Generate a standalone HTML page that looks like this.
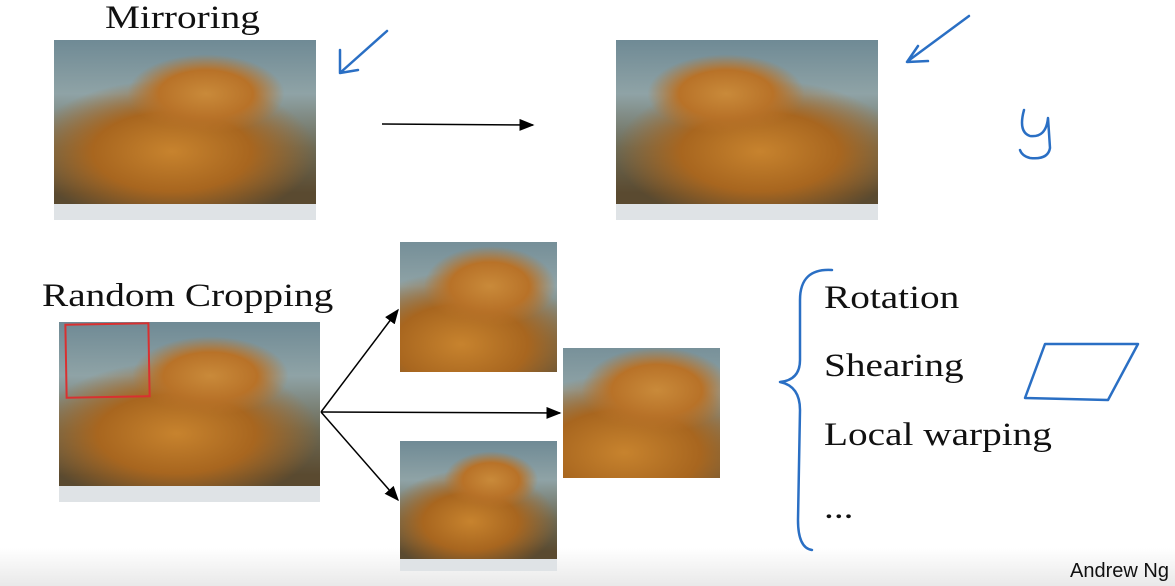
<!DOCTYPE html>
<html><head><meta charset="utf-8"><style>
body{margin:0;width:1175px;height:586px;background:#fff;position:relative;overflow:hidden;font-family:"Liberation Serif",serif;}
.t{position:absolute;font-size:33px;color:#111;white-space:nowrap;line-height:1;transform:scaleX(1.19);transform-origin:0 0}
.cat{position:absolute;overflow:hidden;
background:
radial-gradient(ellipse 30% 22% at 58% 30%, #c98a3a 0%, #b87228 60%, rgba(180,110,40,0) 100%),
radial-gradient(ellipse 55% 40% at 45% 62%, #c7832e 0%, #a8661f 55%, rgba(150,90,30,0) 100%),
linear-gradient(180deg,#6f8a95 0%,#8fa3a6 30%,#6d6a55 60%,#5a4a30 85%,#5a4a30 100%);}
.b:after{content:"";position:absolute;left:0;right:0;bottom:0;height:9%;background:#dfe3e6;}
.bar{position:absolute;left:0;top:548px;width:1175px;height:38px;background:linear-gradient(180deg,#fff,#e9e9e9);}
</style></head><body>
<div class="bar"></div>
<div class="t" style="left:105px;top:2px">Mirroring</div>
<div class="cat b" style="left:54px;top:40px;width:262px;height:180px"></div>
<div class="cat b" style="left:616px;top:40px;width:262px;height:180px;transform:scaleX(-1)"></div>
<div class="t" style="left:42px;top:280px">Random Cropping</div>
<div class="cat b" style="left:59px;top:322px;width:261px;height:180px"></div>
<div class="cat" style="left:400px;top:242px;width:157px;height:130px;background-size:140% 140%;background-position:60% 20%"></div>
<div class="cat" style="left:563px;top:348px;width:157px;height:130px;background-size:160% 150%;background-position:55% 25%"></div>
<div class="cat b" style="left:400px;top:441px;width:157px;height:130px"></div>
<div class="t" style="left:824px;top:282px">Rotation</div>
<div class="t" style="left:824px;top:350px">Shearing</div>
<div class="t" style="left:824px;top:419px">Local warping</div>
<div class="t" style="left:824px;top:492px">...</div>
<div style="position:absolute;left:1070px;top:560px;font-family:'Liberation Sans',sans-serif;font-size:20px;color:#111;white-space:nowrap">Andrew Ng</div>
<svg width="1175" height="586" style="position:absolute;left:0;top:0">
<defs><marker id="a" markerWidth="10" markerHeight="8" refX="9" refY="4" orient="auto"><path d="M0,0L10,4L0,8z" fill="#000"/></marker></defs>
<g stroke="#000" stroke-width="1.5" fill="none" marker-end="url(#a)">
<line x1="382" y1="124" x2="533" y2="125"/>
<line x1="321" y1="412" x2="398" y2="310"/>
<line x1="321" y1="412" x2="560" y2="413"/>
<line x1="321" y1="412" x2="398" y2="500"/>
</g>
<rect x="66" y="324" width="83" height="73" fill="none" stroke="#d93030" stroke-width="2" transform="rotate(-1 107 360)"/>
<g stroke="#2a6fc4" stroke-width="2.5" fill="none" stroke-linecap="round" stroke-linejoin="round">
<path d="M387,31 L341,72 M340,50 L340,73 L358,70"/>
<path d="M969,16 L908,61 M918,46 L907,62 L928,61"/>
<path d="M1024,110 Q1018,132 1030,136 Q1046,138 1048,118 L1050,148 Q1048,160 1030,158 Q1022,156 1020,150"/>
<path d="M832,270 Q800,268 800,300 L800,360 Q800,380 780,382 Q800,386 800,410 L798,520 Q798,548 812,550"/>
<path d="M1045,344 L1138,344 L1108,400 L1025,398 Z"/>
</g>
</svg>
</body></html>
